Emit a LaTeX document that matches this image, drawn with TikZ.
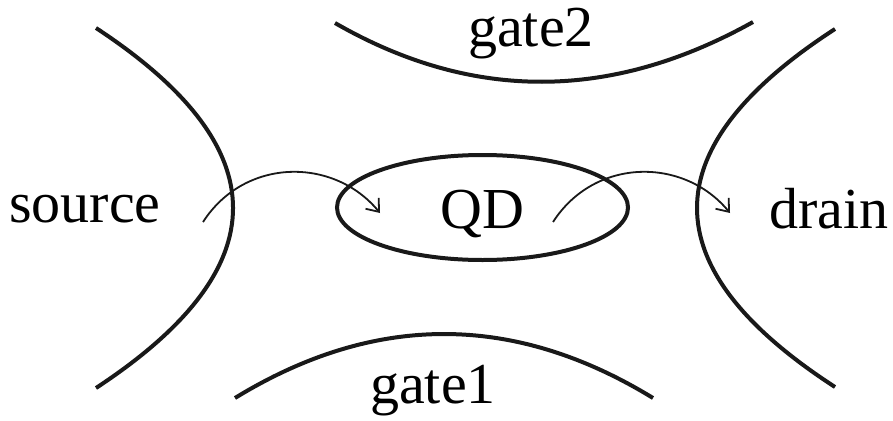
\documentclass[tikz,border=0pt]{standalone}
\usepackage{fontspec}
\setmainfont{Liberation Serif}
\newfontfamily\labelfont{Liberation Serif}
\usetikzlibrary{arrows.meta,shapes.geometric}
\tikzset{
  electrode/.style={line width=4pt, draw=black!90},
  label/.style={font=\labelfont\fontsize{58}{60}\selectfont, inner sep=0pt, anchor=base},
  dot/.style={ellipse, draw=black!90, line width=4pt, minimum width=291pt, minimum height=105pt, inner sep=0pt},
  hop/.style={line width=1.8pt, draw=black!90, -{Straight Barb[length=11pt,width=17pt,line width=1.8pt]}}
}
\begin{document}
\begin{tikzpicture}[x=1pt,y=-1pt]
  \useasboundingbox (0,0) rectangle (893,420);
  % electrodes (parabolic arcs)
  \draw[electrode] (96,28) .. controls (278.7,148) and (278.7,268) .. (96,388);
  \draw[electrode] (835,29) .. controls (651,148.3) and (651,267.7) .. (835,387);
  \draw[electrode] (335,23) .. controls (471.7,101.7) and (611,101.3) .. (753,22);
  \draw[electrode] (235,398) .. controls (374.3,312.7) and (513.7,312.7) .. (653,398);
  % quantum dot
  \node[dot] (qd) at (482.5,207.5) {};
  % labels
  \node[label] (source) at (85,222) {source};
  \node[label] (drain) at (829,228) {drain};
  \node[label] (gate2) at (531,47) {gate2};
  \node[label] (gate1) at (433,403) {gate1};
  \node[label] (qdtext) at (482.5,228) {QD};
  % tunnelling paths
  \coordinate (in1) at (203,222);
  \coordinate (tip1) at (380,213);
  \coordinate (in2) at (553,222);
  \coordinate (tip2) at (730,213);
  \draw[hop] (in1) .. controls (245,157) and (334,157) .. (tip1);
  \draw[hop] (in2) .. controls (595,157) and (684,157) .. (tip2);
\end{tikzpicture}
\end{document}
